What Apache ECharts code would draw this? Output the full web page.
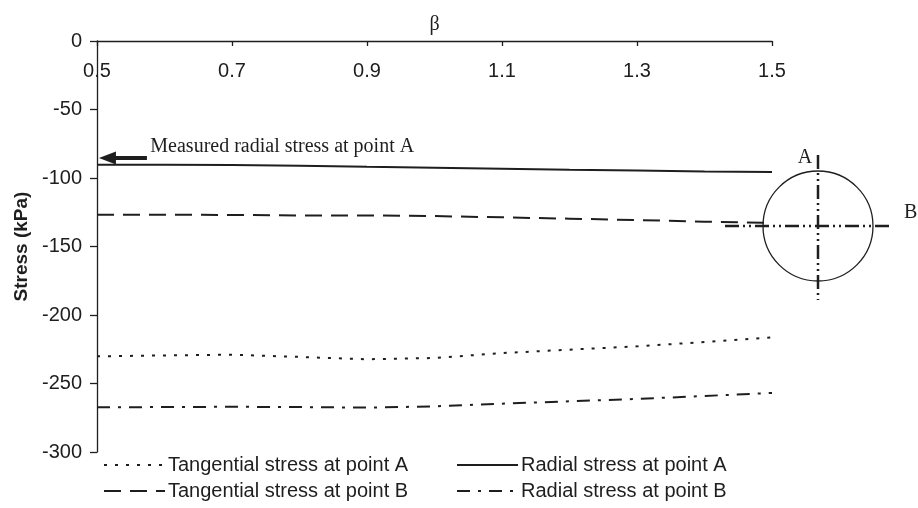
<!DOCTYPE html>
<html>
<head>
<meta charset="utf-8">
<script src="https://cdn.jsdelivr.net/npm/echarts@6/dist/echarts.min.js"></script>
<style>
  html, body { margin: 0; padding: 0; background: #fff; }
  #chart { width: 918px; height: 508px; }
</style>
</head>
<body>
<div id="chart"></div>
<script>
// Stress around the opening versus the ratio β
const beta = [0.5, 0.6, 0.7, 0.8, 0.9, 1.0, 1.1, 1.2, 1.3, 1.4, 1.5];
const tangentialA = [-230.2, -229.5, -229.0, -230.6, -232.3, -231.4, -227.8, -225.3, -222.9, -219.7, -216.3];
const radialA = [-90.3, -90.3, -90.5, -91.0, -91.8, -92.5, -93.2, -94.0, -94.5, -95.2, -95.6];
const tangentialB = [-126.8, -126.8, -127.0, -127.3, -127.3, -127.8, -128.7, -129.7, -130.7, -131.9, -132.8];
const radialB = [-267.4, -267.2, -267.0, -267.2, -267.6, -266.7, -264.7, -263.0, -261.3, -259.1, -256.9];

const betaTicks = [0.5, 0.7, 0.9, 1.1, 1.3, 1.5];
const measuredRadialA = -85.4;   // measured value marked with the arrow

const INK = '#1e1e1e';
const SANS = 'Liberation Sans, Arial, sans-serif';
const SERIF = 'Liberation Serif, Times New Roman, serif';

const pairs = ys => beta.map((b, i) => [b, ys[i]]);

const chart = echarts.init(document.getElementById('chart'), null, { renderer: 'canvas' });

const lineSeries = (name, ys, type, extra) => Object.assign({
  name: name,
  type: 'line',
  data: pairs(ys),
  symbol: 'none',
  showSymbol: false,
  smooth: false,
  lineStyle: { color: INK, width: 2, type: type },
  itemStyle: { color: INK },
  animation: false,
  z: 3
}, extra || {});

// one legend block per entry, laid out as a 2 x 2 table under the plot
const legendEntry = (name, left, top) => ({
  left: left,
  top: top,
  padding: 0,
  itemWidth: 61,
  itemHeight: 20,
  itemGap: 0,
  data: [name],
  itemStyle: { opacity: 0 },
  textStyle: { fontFamily: SANS, fontSize: 20, color: INK, padding: [0, 0, 0, -2] },
  selectedMode: false
});

chart.setOption({
  backgroundColor: '#fff',
  animation: false,
  grid: { left: 97, right: 146, top: 41, bottom: 56, containLabel: false },
  xAxis: {
    type: 'value',
    position: 'top',
    min: 0.5,
    max: 1.5,
    name: 'β',
    nameLocation: 'middle',
    nameGap: 6,
    nameTextStyle: { fontFamily: SERIF, fontSize: 20, color: INK },
    axisLine: { onZero: false, lineStyle: { color: INK, width: 1.3 } },
    axisTick: { show: true, inside: true, length: 5, lineStyle: { color: INK, width: 1.3 }, customValues: betaTicks },
    axisLabel: {
      inside: true, margin: 20, fontFamily: SANS, fontSize: 20, color: INK,
      customValues: betaTicks,
      formatter: v => v.toFixed(1)
    },
    splitLine: { show: false }
  },
  yAxis: {
    type: 'value',
    min: -300,
    max: 0,
    interval: 50,
    name: 'Stress (kPa)',
    nameLocation: 'middle',
    nameGap: 63,
    nameTextStyle: { fontFamily: SANS, fontSize: 19, fontWeight: 'bold', color: INK },
    axisLine: { show: true, onZero: false, lineStyle: { color: INK, width: 1.3 } },
    axisTick: { show: true, inside: false, length: 7, lineStyle: { color: INK, width: 1.3 } },
    axisLabel: { margin: 15, fontFamily: SANS, fontSize: 20, color: INK },
    splitLine: { show: false }
  },
  legend: [
    legendEntry('Tangential stress at point A', 103, 455),
    legendEntry('Tangential stress at point B', 103, 481),
    legendEntry('Radial stress at point A', 456, 455),
    legendEntry('Radial stress at point B', 456, 481)
  ],
  series: [
    lineSeries('Tangential stress at point A', tangentialA, [3, 8]),
    lineSeries('Radial stress at point A', radialA, 'solid', {
      markLine: {
        silent: true,
        animation: false,
        label: { show: false },
        lineStyle: { color: INK, width: 4, type: 'solid' },
        data: [[
          { coord: [0.574, measuredRadialA], symbol: 'none' },
          { coord: [0.5155, measuredRadialA], symbol: 'path://M6.5,0 L13,17 L0,17 Z', symbolSize: [13, 17] }
        ]]
      },
      markPoint: {
        silent: true,
        animation: false,
        symbol: 'circle',
        symbolSize: 0,
        data: [{ coord: [0.579, -76.9] }],
        label: {
          show: true,
          position: 'right',
          distance: 0,
          formatter: 'Measured radial stress at point A',
          fontFamily: SERIF,
          fontSize: 20,
          color: INK
        }
      }
    }),
    lineSeries('Tangential stress at point B', tangentialB, [17, 9]),
    lineSeries('Radial stress at point B', radialB, [13, 8, 3, 8])
  ],
  graphic: [
    {
      type: 'group',
      silent: true,
      children: [
        { type: 'circle', shape: { cx: 818, cy: 226, r: 55 }, style: { fill: 'none', stroke: INK, lineWidth: 1.3 } },
        { type: 'line', shape: { x1: 818, y1: 155, x2: 818, y2: 300 }, style: { stroke: INK, lineWidth: 2.5, lineDash: [14, 4, 2, 4, 2, 4] } },
        { type: 'line', shape: { x1: 725, y1: 226, x2: 890, y2: 226 }, style: { stroke: INK, lineWidth: 2.5, lineDash: [14, 4, 2, 4, 2, 4] } },
        { type: 'text', x: 805, y: 158, style: { text: 'A', font: '20px ' + SERIF, fill: INK, align: 'center', verticalAlign: 'middle' } },
        { type: 'text', x: 904, y: 213, style: { text: 'B', font: '20px ' + SERIF, fill: INK, align: 'left', verticalAlign: 'middle' } }
      ]
    }
  ]
});
</script>
</body>
</html>
